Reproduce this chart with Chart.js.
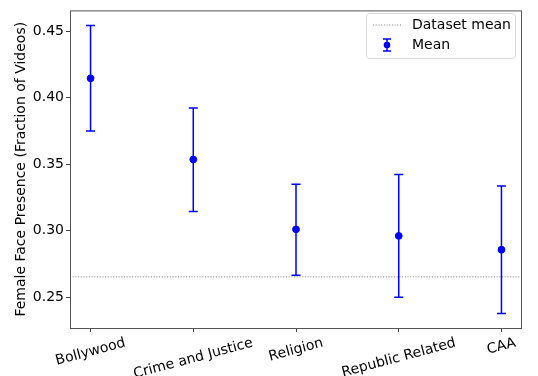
<!DOCTYPE html>
<html>
<head>
<meta charset="utf-8">
<script src="https://cdn.jsdelivr.net/npm/chart.js@4"></script>
<style>
  html, body { margin: 0; padding: 0; background: #fff; }
  #wrap { width: 538px; height: 376px; }
</style>
</head>
<body>
<div id="wrap"><canvas id="chart"></canvas></div>
<script>
const categories = ["Bollywood", "Crime and Justice", "Religion", "Republic Related", "CAA"];
const means = [0.4145, 0.3535, 0.301, 0.2961, 0.2857];
const lowerBounds = [0.3749, 0.3145, 0.2666, 0.2500, 0.2377];
const upperBounds = [0.4542, 0.3921, 0.3349, 0.3423, 0.3335];
const datasetMean = 0.2653;
const yTicks = [0.25, 0.30, 0.35, 0.40, 0.45];

const FONT = "'DejaVu Sans', sans-serif";
const BLUE = "#0000ff";

// draw the vertical error bars with caps
const errorBars = {
    id: "errorBars",
    afterDatasetsDraw(chart) {
        const ctx = chart.ctx;
        const x = chart.scales.x, y = chart.scales.y;
        ctx.save();
        ctx.strokeStyle = BLUE;
        ctx.lineWidth = 1.5;
        categories.forEach((c, i) => {
            const px = x.getPixelForValue(i);
            const top = y.getPixelForValue(upperBounds[i]);
            const bot = y.getPixelForValue(lowerBounds[i]);
            ctx.beginPath();
            ctx.moveTo(px, top); ctx.lineTo(px, bot);
            ctx.moveTo(px - 4.5, top); ctx.lineTo(px + 4.5, top);
            ctx.moveTo(px - 4.5, bot); ctx.lineTo(px + 4.5, bot);
            ctx.stroke();
        });
        ctx.restore();
    }
};

// frame, rotated x labels and the legend box
const decorations = {
    id: "decorations",
    afterDraw(chart) {
        const ctx = chart.ctx;
        const a = chart.chartArea;
        const x = chart.scales.x;
        ctx.save();
        ctx.strokeStyle = "#555";
        ctx.lineWidth = 1;
        ctx.strokeRect(a.left + 0.5, a.top + 0.5, a.right - a.left - 1, a.bottom - a.top);

        ctx.font = "14px " + FONT;
        ctx.fillStyle = "#000";
        ctx.textAlign = "center";
        ctx.textBaseline = "middle";
        categories.forEach((c, i) => {
            const px = x.getPixelForValue(i);
            const w = ctx.measureText(c).width;
            const ang = -15 * Math.PI / 180;
            const h = Math.abs(w * Math.sin(ang)) + 14 * Math.cos(ang);
            ctx.save();
            ctx.translate(px, a.bottom + 4 + 4 + h / 2);
            ctx.rotate(ang);
            ctx.fillText(c, 0, 0);
            ctx.restore();
        });

        // legend
        const lx = 366.5, ly = 13.5, lw = 149, lh = 45;
        ctx.fillStyle = "rgba(255,255,255,0.8)";
        ctx.strokeStyle = "#d9d9d9";
        ctx.lineWidth = 1;
        ctx.beginPath();
        ctx.roundRect(lx, ly, lw, lh, 3);
        ctx.fill();
        ctx.stroke();

        ctx.strokeStyle = "#808080";
        ctx.setLineDash([1, 1.7]);
        ctx.beginPath();
        ctx.moveTo(373, 25); ctx.lineTo(401, 25);
        ctx.stroke();
        ctx.setLineDash([]);

        ctx.strokeStyle = BLUE;
        ctx.lineWidth = 1.5;
        ctx.beginPath();
        ctx.moveTo(387, 39); ctx.lineTo(387, 51);
        ctx.moveTo(383, 39); ctx.lineTo(391, 39);
        ctx.moveTo(383, 51); ctx.lineTo(391, 51);
        ctx.stroke();
        ctx.fillStyle = BLUE;
        ctx.beginPath();
        ctx.arc(387, 45, 3.3, 0, Math.PI * 2);
        ctx.fill();

        ctx.fillStyle = "#000";
        ctx.textAlign = "left";
        ctx.textBaseline = "middle";
        ctx.fillText("Dataset mean", 412, 25);
        ctx.fillText("Mean", 412, 45);
        ctx.restore();
    }
};

new Chart(document.getElementById("chart"), {
    type: "scatter",
    data: {
        datasets: [
            {
                label: "Dataset mean",
                type: "line",
                data: [{ x: -0.2, y: datasetMean }, { x: 4.2, y: datasetMean }],
                borderColor: "#808080",
                borderWidth: 1,
                borderDash: [1, 1.7],
                pointRadius: 0,
                fill: false
            },
            {
                label: "Mean",
                data: means.map((m, i) => ({ x: i, y: m })),
                backgroundColor: BLUE,
                borderColor: BLUE,
                pointRadius: 3.4,
                pointHoverRadius: 3.4
            }
        ]
    },
    options: {
        responsive: true,
        maintainAspectRatio: false,
        animation: false,
        events: [],
        layout: { padding: { top: 5, right: 16, left: 0, bottom: 0 } },
        plugins: {
            legend: { display: false },
            tooltip: { enabled: false }
        },
        scales: {
            x: {
                type: "linear",
                min: -0.2,
                max: 4.2,
                afterBuildTicks: s => { s.ticks = categories.map((c, i) => ({ value: i })); },
                afterFit: s => { s.height = 48; },
                ticks: { display: false },
                grid: { drawOnChartArea: false, drawTicks: true, tickLength: 4, color: "#444" },
                border: { display: false }
            },
            y: {
                min: 0.2269,
                max: 0.4655,
                afterBuildTicks: s => { s.ticks = yTicks.map(v => ({ value: v })); },
                afterFit: s => { s.width = 70; },
                ticks: {
                    color: "#000",
                    font: { family: FONT, size: 14 },
                    padding: 2,
                    callback: v => v.toFixed(2)
                },
                grid: { drawOnChartArea: false, drawTicks: true, tickLength: 4, color: "#444" },
                border: { display: false },
                title: {
                    display: true,
                    text: "Female Face Presence (Fraction of Videos)",
                    color: "#000",
                    font: { family: FONT, size: 14 },
                    padding: { top: 13, bottom: 0 }
                }
            }
        }
    },
    plugins: [errorBars, decorations]
});
</script>
</body>
</html>
